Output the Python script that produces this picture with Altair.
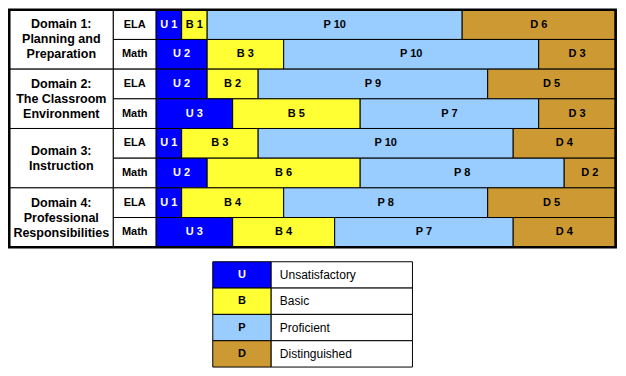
import altair as alt
import pandas as pd

# ---- data ----
domains = ["Domain 1:\nPlanning and\nPreparation",
           "Domain 2:\nThe Classroom\nEnvironment",
           "Domain 3:\nInstruction",
           "Domain 4:\nProfessional\nResponsibilities"]
subjects = ["ELA", "Math"]
levels = ["U", "B", "P", "D"]
level_names = ["Unsatisfactory", "Basic", "Proficient", "Distinguished"]
level_colors = ["#0000FF", "#FFFF33", "#99CCFF", "#CC9933"]
level_text_colors = ["#FFFFFF", "#000000", "#000000", "#000000"]
U = [1, 2, 2, 3, 1, 2, 1, 3]
B = [1, 3, 2, 5, 3, 6, 4, 4]
P = [10, 10, 9, 7, 10, 8, 8, 7]
D = [6, 3, 5, 3, 4, 2, 5, 4]

# ---- build tables ----
series = {"U": U, "B": B, "P": P, "D": D}
bar_rows = []
for r in range(len(U)):
    cum = 0
    for lv in levels:
        v = series[lv][r]
        bar_rows.append({"row": r, "y0": r, "y1": r + 1, "yc": r + 0.5,
                         "x0": cum, "x1": cum + v, "xc": cum + v / 2,
                         "level": lv, "label": f"{lv} {v}"})
        cum += v
bars = pd.DataFrame(bar_rows)

PX_PER_ROW = 360 / 12.13
LINE_H = 15
line_units = LINE_H / PX_PER_ROW
nlines = [d.count("\n") + 1 for d in domains]
dom_df = pd.DataFrame({"name": domains,
                       "y0": [2 * i for i in range(4)],
                       "y1": [2 * i + 2 for i in range(4)],
                       "yc": [2 * i + 1 - (n - 1) / 2 * line_units for i, n in enumerate(nlines)],
                       "x0": -5.76, "x1": -1.68, "xc": -3.72})
subj_df = pd.DataFrame({"name": [subjects[i % 2] for i in range(8)],
                        "y0": list(range(8)), "y1": [i + 1 for i in range(8)],
                        "yc": [i + 0.5 for i in range(8)],
                        "x0": -1.68, "x1": 0, "xc": -0.84})
outer = pd.DataFrame({"x0": [-5.76], "x1": [18.02], "y0": [0], "y1": [8]})

lh = 0.887
leg_top = 8.49
legend = pd.DataFrame({"level": levels, "name": level_names,
                       "y0": [leg_top + lh * i for i in range(4)],
                       "y1": [leg_top + lh * (i + 1) for i in range(4)],
                       "yc": [leg_top + lh * (i + 0.5) for i in range(4)],
                       "xa": 2.22, "xb": 4.51, "xe": 10.05,
                       "xl": 3.36, "xt": 4.85})

xs = alt.Scale(domain=[-5.81, 18.11], nice=False, zero=False)
ys = alt.Scale(domain=[-0.06, 12.07], nice=False, zero=False, reverse=True)
cscale = alt.Scale(domain=levels, range=level_colors)
tscale = alt.Scale(domain=levels, range=level_text_colors)

def X(f):
    return alt.X(f, type="quantitative", scale=xs, axis=None)

def Y(f):
    return alt.Y(f, type="quantitative", scale=ys, axis=None)

FONT = "Liberation Sans"

dom_rect = alt.Chart(dom_df).mark_rect(fill="white", stroke="black", strokeWidth=1).encode(
    x=X("x0"), x2="x1", y=Y("y0"), y2="y1")
dom_text = alt.Chart(dom_df).mark_text(font=FONT, fontWeight="bold", fontSize=12.5,
                                       lineBreak="\n", lineHeight=LINE_H, baseline="middle").encode(
    x=X("xc"), y=Y("yc"), text="name")
subj_rect = alt.Chart(subj_df).mark_rect(fill="white", stroke="black", strokeWidth=1).encode(
    x=X("x0"), x2="x1", y=Y("y0"), y2="y1")
subj_text = alt.Chart(subj_df).mark_text(font=FONT, fontWeight="bold", fontSize=11).encode(
    x=X("xc"), y=Y("yc"), text="name")
bar_rect = alt.Chart(bars).mark_rect(stroke="black", strokeWidth=1).encode(
    x=X("x0"), x2="x1", y=Y("y0"), y2="y1",
    fill=alt.Fill("level:N", scale=cscale, legend=None))
bar_text = alt.Chart(bars).mark_text(font=FONT, fontWeight="bold", fontSize=11).encode(
    x=X("xc"), y=Y("yc"), text="label",
    color=alt.Color("level:N", scale=tscale, legend=None))
outer_rect = alt.Chart(outer).mark_rect(fill=None, fillOpacity=0, stroke="black", strokeWidth=2.5).encode(
    x=X("x0"), x2="x1", y=Y("y0"), y2="y1")

leg_a = alt.Chart(legend).mark_rect(stroke="black", strokeWidth=1).encode(
    x=X("xa"), x2="xb", y=Y("y0"), y2="y1",
    fill=alt.Fill("level:N", scale=cscale, legend=None))
leg_b = alt.Chart(legend).mark_rect(fill="white", stroke="black", strokeWidth=1).encode(
    x=X("xb"), x2="xe", y=Y("y0"), y2="y1")
leg_letter = alt.Chart(legend).mark_text(font=FONT, fontWeight="bold", fontSize=11).encode(
    x=X("xl"), y=Y("yc"), text="level",
    color=alt.Color("level:N", scale=tscale, legend=None))
leg_name = alt.Chart(legend).mark_text(font=FONT, fontSize=12, align="left").encode(
    x=X("xt"), y=Y("yc"), text="name")

chart = alt.layer(dom_rect, subj_rect, bar_rect, outer_rect, dom_text, subj_text, bar_text,
                  leg_a, leg_b, leg_letter, leg_name).properties(
    width=610, height=360, padding=0, background="white"
).configure_view(stroke=None)

chart.save("out.html", embed_options={"renderer": "svg", "actions": False})
